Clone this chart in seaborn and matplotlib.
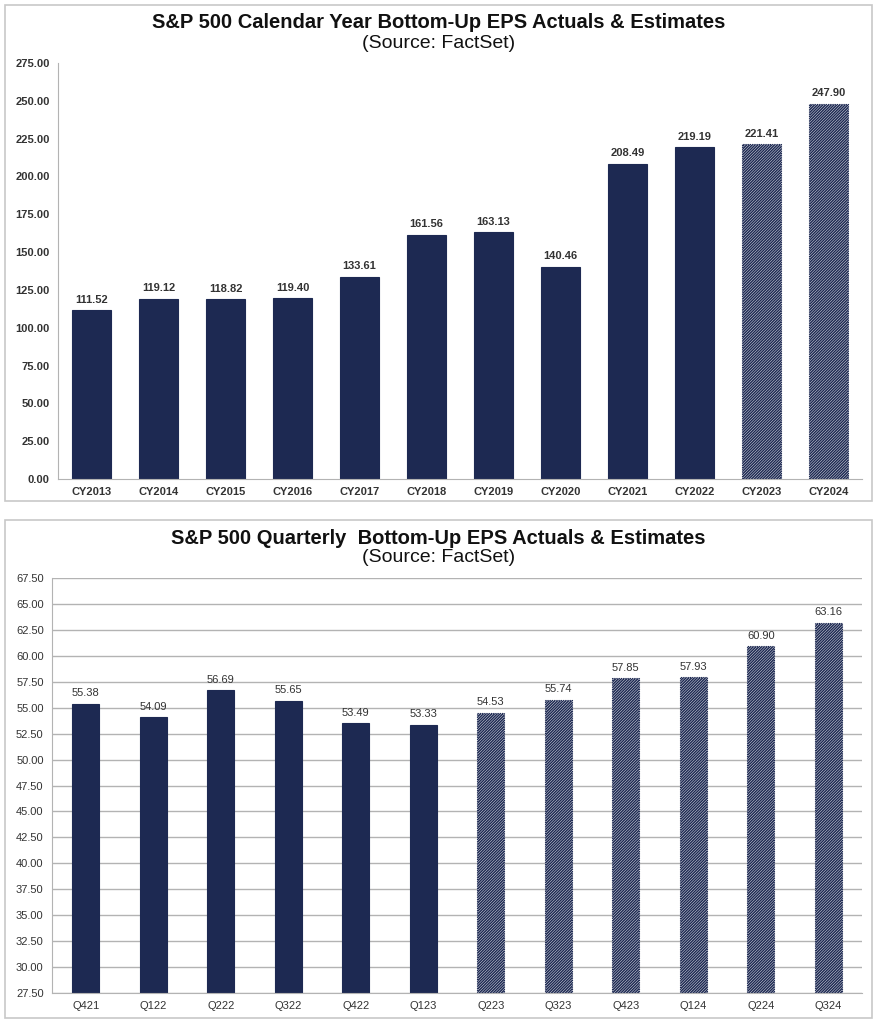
import numpy as np
import pandas as pd
import seaborn as sns
import matplotlib
matplotlib.use('Agg')
import matplotlib.pyplot as plt
from matplotlib.patches import Rectangle

# calendar year EPS
cy_labels = ['CY2013', 'CY2014', 'CY2015', 'CY2016', 'CY2017', 'CY2018',
             'CY2019', 'CY2020', 'CY2021', 'CY2022', 'CY2023', 'CY2024']
cy_eps = [111.52, 119.12, 118.82, 119.40, 133.61, 161.56,
          163.13, 140.46, 208.49, 219.19, 221.41, 247.90]
cy_estimate = [False] * 10 + [True] * 2

# quarterly EPS
q_labels = ['Q421', 'Q122', 'Q222', 'Q322', 'Q422', 'Q123',
            'Q223', 'Q323', 'Q423', 'Q124', 'Q224', 'Q324']
q_eps = [55.38, 54.09, 56.69, 55.65, 53.49, 53.33,
         54.53, 55.74, 57.85, 57.93, 60.90, 63.16]
q_estimate = [False] * 6 + [True] * 6

NAVY = '#1d2952'
GRID = '#b3b3b3'
TXT = '#333333'

sns.set_style('white')
plt.rcParams['font.family'] = ['Liberation Sans', 'DejaVu Sans']
plt.rcParams['hatch.linewidth'] = 1.1
plt.rcParams['hatch.color'] = NAVY

fig = plt.figure(figsize=(8.77, 10.24), dpi=100)

# panel frames
for y0, h in [(1 - 501 / 1024, 496 / 1024), (1 - 1018 / 1024, 498 / 1024)]:
    fig.add_artist(Rectangle((5 / 877, y0), 867 / 877, h, transform=fig.transFigure,
                             fill=False, edgecolor='#c8c8c8', linewidth=1.2))


def draw_panel(ax, labels, values, estimate, width, ymin, ymax, step, grid, bold_lbl):
    df = pd.DataFrame({'period': labels, 'eps': values})
    sns.barplot(data=df, x='period', y='eps', ax=ax, color=NAVY, width=width,
                saturation=1, edgecolor=NAVY, linewidth=0.8)
    for patch, est in zip(ax.patches, estimate):
        if est:
            patch.set_facecolor('white')
            patch.set_hatch('////////////')
            patch.set_edgecolor(NAVY)
            patch.set_linestyle((0, (1, 1)))
    for i, v in enumerate(values):
        ax.annotate(f'{v:.2f}', (i, v), xytext=(0, 4), textcoords='offset points',
                    ha='center', va='bottom', fontsize=8, color=TXT,
                    fontweight='bold' if bold_lbl else 'normal')
    ax.set_ylim(ymin, ymax)
    ax.set_xlim(-0.5, len(values) - 0.5)
    ax.set_yticks(np.arange(ymin, ymax + step / 2, step))
    ax.set_yticklabels([f'{t:.2f}' for t in ax.get_yticks()])
    ax.set_xlabel('')
    ax.set_ylabel('')
    ax.tick_params(axis='both', length=0, labelsize=8, labelcolor=TXT, pad=6)
    for lbl in ax.get_xticklabels() + ax.get_yticklabels():
        if bold_lbl:
            lbl.set_fontweight('bold')
    for side in ['top', 'right']:
        ax.spines[side].set_visible(False)
    ax.spines['left'].set_color(GRID)
    ax.spines['bottom'].set_color(GRID)
    if grid:
        ax.yaxis.grid(True, color=GRID, linewidth=1)
        ax.set_axisbelow(True)


ax1 = fig.add_axes([58 / 877, 1 - 479 / 1024, 804 / 877, 416 / 1024])
draw_panel(ax1, cy_labels, cy_eps, cy_estimate, 0.57, 0, 275, 25, False, True)

ax2 = fig.add_axes([52 / 877, 1 - 993 / 1024, 810 / 877, 415 / 1024])
draw_panel(ax2, q_labels, q_eps, q_estimate, 0.4, 27.5, 67.5, 2.5, True, False)

fig.text(0.5, 1 - 23 / 1024, 'S&P 500 Calendar Year Bottom-Up EPS Actuals & Estimates',
         ha='center', va='center', fontsize=14.5, fontweight='bold', color='#111111')
fig.text(0.5, 1 - 43 / 1024, '(Source: FactSet)', ha='center', va='center',
         fontsize=14, color='#111111')
fig.text(0.5, 1 - 539 / 1024, 'S&P 500 Quarterly  Bottom-Up EPS Actuals & Estimates',
         ha='center', va='center', fontsize=14.5, fontweight='bold', color='#111111')
fig.text(0.5, 1 - 558 / 1024, '(Source: FactSet)', ha='center', va='center',
         fontsize=14, color='#111111')

fig.savefig('out.png', dpi=100)
